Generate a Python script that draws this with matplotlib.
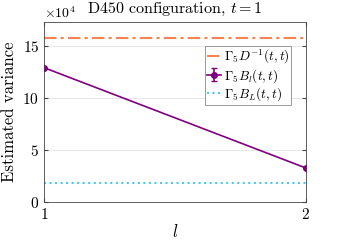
import matplotlib
matplotlib.use("Agg")
import matplotlib.pyplot as plt

plt.rcParams['font.family'] = 'serif'
plt.rcParams['font.serif'] = ['cmr10']
plt.rcParams['mathtext.fontset'] = 'cm'
plt.rcParams['axes.formatter.use_mathtext'] = True
plt.rcParams['axes.unicode_minus'] = False

l_vals = [1, 2]
dinv_level = 15.75e4
bl_vals = [12.9e4, 3.27e4]
bl_err = [0.0, 0.0]
bL_level = 1.86e4

fig, ax = plt.subplots(figsize=(3.38, 2.42), dpi=100)
fig.subplots_adjust(left=0.13, right=0.905, top=0.91, bottom=0.165)

h1 = ax.axhline(dinv_level, color='#F4854F', ls=(0, (6, 2, 1.5, 2)), lw=1.5,
                label=r'$\Gamma_5 D^{-1}(t,t)$')
h2 = ax.errorbar(l_vals, bl_vals, yerr=bl_err, color='#800080', marker='o', ms=4,
                 lw=1.2, capsize=2, label=r'$\Gamma_5 B_l(t,t)$')
h3 = ax.axhline(bL_level, color='#4CC9F0', ls=':', lw=1.5,
                label=r'$\Gamma_5 B_L(t,t)$')

ax.set_xlim(1, 2)
ax.set_ylim(0, 17.3e4)
ax.set_xticks([1, 2])
ax.set_yticks([0, 5e4, 10e4, 15e4])
ax.ticklabel_format(axis='y', style='sci', scilimits=(4, 4))
ax.yaxis.get_offset_text().set_fontsize(10)
ax.yaxis.grid(True, color='#e6e6e6', lw=0.7)
ax.set_axisbelow(True)
ax.tick_params(direction='in', top=True, right=True, labelsize=11, length=3,
               color='#444444')
for s in ax.spines.values():
    s.set_color('#444444')
    s.set_linewidth(0.6)

ax.set_title(r'D450 configuration, $t=1$', fontsize=11.5)
ax.set_xlabel(r'$l$', fontsize=12, labelpad=1)
ax.set_ylabel('Estimated variance', fontsize=12)

leg = ax.legend([h1, h2, h3], [h1.get_label(), h2.get_label(), h3.get_label()],
                loc='upper right', bbox_to_anchor=(0.945, 0.865), fontsize=9.5,
                fancybox=False, edgecolor='#888888', framealpha=1,
                handlelength=1.1, handletextpad=0.2, borderpad=0.15,
                labelspacing=0.05, borderaxespad=0)
leg.get_frame().set_linewidth(0.6)

fig.savefig('out.png', dpi=100)
